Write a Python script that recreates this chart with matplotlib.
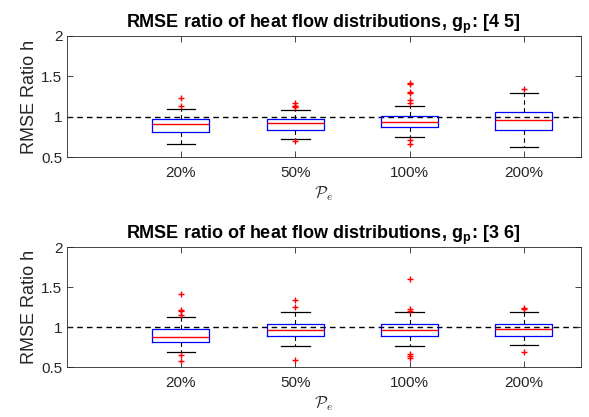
import matplotlib
matplotlib.use('Agg')
import matplotlib.pyplot as plt

plt.rcParams['font.family'] = ['Liberation Sans', 'DejaVu Sans']
plt.rcParams['mathtext.fontset'] = 'cm'

labels = ['20%', '50%', '100%', '200%']

# top panel, g_p = [4 5]
top_med = [0.91, 0.92, 0.94, 0.96]
top_q1 = [0.81, 0.84, 0.87, 0.84]
top_q3 = [0.975, 0.97, 1.01, 1.06]
top_lo = [0.66, 0.725, 0.75, 0.63]
top_hi = [1.10, 1.09, 1.13, 1.295]
top_fliers = [[1.23, 1.14],
              [1.17, 1.14, 1.13, 1.12, 0.70],
              [1.42, 1.40, 1.31, 1.30, 1.21, 1.175, 0.71, 0.66],
              [1.34]]

# bottom panel, g_p = [3 6]
bot_med = [0.88, 0.96, 0.96, 0.975]
bot_q1 = [0.82, 0.89, 0.89, 0.89]
bot_q3 = [0.98, 1.045, 1.04, 1.045]
bot_lo = [0.69, 0.77, 0.765, 0.78]
bot_hi = [1.13, 1.19, 1.19, 1.19]
bot_fliers = [[1.41, 1.22, 1.20, 1.15, 0.65, 0.575],
              [1.34, 1.25, 0.595],
              [1.60, 1.225, 1.20, 0.67, 0.64, 0.61],
              [1.245, 1.23, 0.695]]

panels = [('[4 5]', top_med, top_q1, top_q3, top_lo, top_hi, top_fliers),
          ('[3 6]', bot_med, bot_q1, bot_q3, bot_lo, bot_hi, bot_fliers)]

fig = plt.figure(figsize=(5.89, 4.17), dpi=100)
rects = [[0.113, 0.6228, 0.8735, 0.291], [0.113, 0.1192, 0.8735, 0.2878]]

for rect, (gp, med, q1, q3, lo, hi, fl) in zip(rects, panels):
    ax = fig.add_axes(rect)
    stats = []
    for i in range(len(labels)):
        stats.append({'med': med[i], 'q1': q1[i], 'q3': q3[i],
                      'whislo': lo[i], 'whishi': hi[i], 'fliers': fl[i],
                      'label': labels[i]})
    ax.axhline(1, color='black', linestyle=(0, (4, 3)), linewidth=1.0, zorder=1)
    ax.bxp(stats, positions=[1, 2, 3, 4], widths=0.5, capwidths=0.25,
           boxprops=dict(color='blue', linewidth=0.9),
           medianprops=dict(color='red', linewidth=1.0),
           whiskerprops=dict(color='black', linestyle=(0, (4, 3)), linewidth=0.8),
           capprops=dict(color='black', linewidth=0.9),
           flierprops=dict(marker='+', markeredgecolor='red', markersize=5,
                           markeredgewidth=1.0, linestyle='none'))
    ax.set_xlim(0, 4.5)
    ax.set_ylim(0.5, 2)
    ax.set_yticks([0.5, 1, 1.5, 2])
    ax.set_yticklabels(['0.5', '1', '1.5', '2'])
    ax.tick_params(direction='in', top=True, right=True, labelsize=11,
                   length=4, width=0.6, colors='#262626')
    ax.tick_params(axis='x', pad=6)
    ax.tick_params(axis='y', pad=3)
    for s in ax.spines.values():
        s.set_color('#262626')
        s.set_linewidth(0.6)
    ax.set_ylabel('RMSE Ratio h', fontsize=13, color='#262626', labelpad=2)
    ax.set_xlabel(r'$\mathcal{P}_e$', fontsize=12, color='#262626', labelpad=3)
    ax.set_title(r'RMSE ratio of heat flow distributions, g$_\mathregular{p}$: ' + gp,
                 fontsize=13, fontweight='bold', pad=6)

fig.savefig('out.png', dpi=100)
